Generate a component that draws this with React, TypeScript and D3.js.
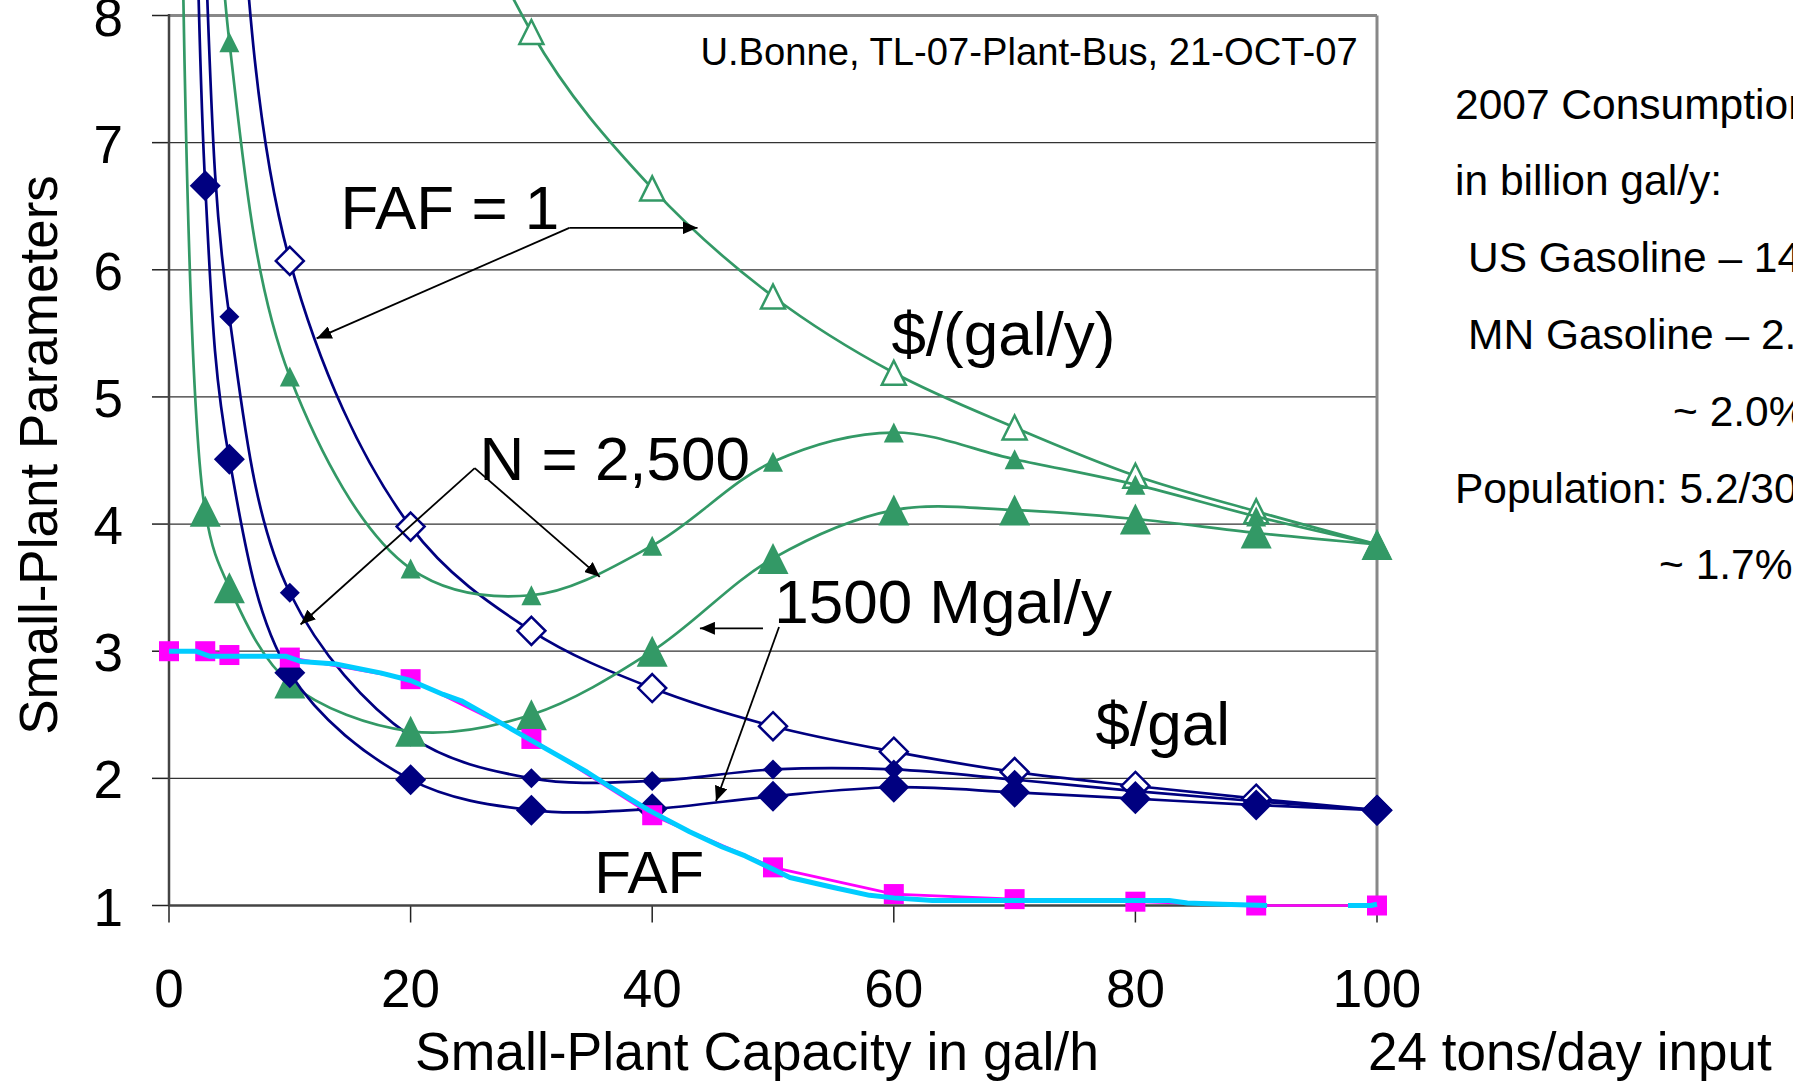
import React from "react";
import * as d3 from "d3";

// capacity in gal/h, shared by every marked series (null = no point)
const capacity = [0, 1, 3, 5, 10, 20, 30, 40, 50, 60, 70, 80, 90, 100];

// $/gal
const costFaf1 = [null, null, 15.9, 10.3, 6.07, 3.98, 3.16, 2.71, 2.41, 2.21, 2.05, 1.94, 1.84, 1.75];
const costN2500 = [null, 23.2, 8.56, 5.63, 3.46, 2.33, 2.0, 1.98, 2.07, 2.07, 1.99, 1.9, 1.82, 1.75];
const cost1500 = [null, 17.9, 6.66, 4.51, 2.83, 1.99, 1.75, 1.76, 1.86, 1.93, 1.89, 1.84, 1.79, 1.75];

// $/(gal/y)
const capFaf1 = [null, null, null, null, 17.0, 10.3, 7.87, 6.64, 5.79, 5.19, 4.76, 4.38, 4.1, 3.84];
const capN2500 = [null, null, 11.3, 7.79, 5.16, 3.65, 3.44, 3.83, 4.49, 4.72, 4.51, 4.31, 4.06, 3.84];
const cap1500 = [null, 9.6, 4.1, 3.5, 2.75, 2.37, 2.5, 3.0, 3.73, 4.11, 4.11, 4.04, 3.93, 3.84];

// FAF
const fafPoints = [3.0, null, 3.0, 2.97, 2.95, 2.78, 2.31, 1.71, 1.3, 1.09, 1.05, 1.03, 1.0, 1.0];
const fafCurveX = [0, 2.2, 3.4, 9.7, 10.9, 13.8, 17.5, 20, 22.7, 24.2, 27.2, 30.9, 34.6, 36.4, 39.7, 43.1, 45.8, 47.7, 49.9, 51.4, 55.1, 58, 60, 63.2, 82.8, 84.3, 87.2, 90.9, 94, 97.6, 99.5, 100];
const fafCurveY = [3.0, 3.0, 2.96, 2.96, 2.92, 2.9, 2.83, 2.77, 2.66, 2.61, 2.45, 2.25, 2.05, 1.94, 1.75, 1.58, 1.46, 1.39, 1.29, 1.22, 1.14, 1.08, 1.06, 1.04, 1.04, 1.02, 1.01, 1.0, null, 1.0, 1.0, 1.01];

const xTicks = [0, 20, 40, 60, 80, 100];
const yTicks = [1, 2, 3, 4, 5, 6, 7, 8];

const sideNotes = [
  { text: "2007 Consumption", dx: 0 },
  { text: "in billion gal/y:", dx: 0 },
  { text: "US Gasoline \u2013 140", dx: 13 },
  { text: "MN Gasoline \u2013 2.8", dx: 13 },
  { text: "~ 2.0%", dx: 218 },
  { text: "Population: 5.2/300", dx: 0 },
  { text: "~ 1.7%", dx: 204 },
];

const W = 1793;
const H = 1082;
const FONT = "'Liberation Sans', Arial, Helvetica, sans-serif";
const NAVY = "#000080";
const GREEN = "#339966";
const MAGENTA = "#ff00ff";
const CYAN = "#00ccff";

const x = d3.scaleLinear().domain([0, 100]).range([169, 1377]);
const y = d3.scaleLinear().domain([1, 8]).range([905.5, 15.5]);

const smooth = d3
  .line<[number, number]>()
  .x((d) => x(d[0]))
  .y((d) => y(d[1]))
  .curve(d3.curveCatmullRom.alpha(0.5));

const straight = d3
  .line<[number, number | null]>()
  .defined((d) => d[1] != null)
  .x((d) => x(d[0]))
  .y((d) => y(d[1] as number));

const pts = (vals: (number | null)[]) =>
  capacity.map((c, i) => [c, vals[i]]).filter((d) => d[1] != null) as [number, number][];

// drawing order as in the original (later on top)
const series = [
  { vals: costFaf1, color: NAVY, shape: "diamond", size: 14, open: true },
  { vals: costN2500, color: NAVY, shape: "diamond", size: 10, open: false },
  { vals: capFaf1, color: GREEN, shape: "triangle", size: 24, open: true },
  { vals: capN2500, color: GREEN, shape: "triangle", size: 20, open: false },
  { vals: cap1500, color: GREEN, shape: "triangle", size: 31, open: false },
  { vals: cost1500, color: NAVY, shape: "diamond", size: 15.5, open: false },
  { vals: fafPoints, color: MAGENTA, shape: "square", size: 20, open: false },
];

const labels = [
  { text: "FAF = 1", at: [14.2, 6.32], size: 62 },
  { text: "N = 2,500", at: [25.7, 4.35], size: 62 },
  { text: "1500 Mgal/y", at: [50.1, 3.22], size: 62 },
  { text: "$/(gal/y)", at: [59.8, 5.33], size: 62 },
  { text: "$/gal", at: [76.7, 2.26], size: 62 },
  { text: "FAF", at: [35.2, 1.1], size: 60 },
];

const arrows = [
  [[33.14, 6.33], [43.75, 6.33]],
  [[33.14, 6.33], [12.22, 5.46]],
  [[25.31, 4.44], [10.89, 3.21]],
  [[25.31, 4.44], [35.66, 3.585]],
  [[49.17, 3.18], [43.95, 3.18]],
  [[50.5, 3.19], [45.28, 1.82]],
];

function Mark({ shape, size, cx, cy, color, open }: any) {
  const fill = open ? "#fff" : color;
  const stroke = open ? color : "none";
  const sw = open ? 2.5 : 0;
  if (shape === "diamond") {
    const r = size;
    return (
      <polygon
        points={`${cx},${cy - r} ${cx + r},${cy} ${cx},${cy + r} ${cx - r},${cy}`}
        fill={fill}
        stroke={stroke}
        strokeWidth={sw}
      />
    );
  }
  if (shape === "triangle") {
    const h = size / 2;
    return (
      <polygon
        points={`${cx},${cy - h} ${cx + h},${cy + h} ${cx - h},${cy + h}`}
        fill={fill}
        stroke={stroke}
        strokeWidth={sw}
      />
    );
  }
  const h = size / 2;
  return <rect x={cx - h} y={cy - h} width={size} height={size} fill={fill} />;
}

export default function App() {
  const curve = fafCurveX.map((c, i) => [c, fafCurveY[i]]) as [number, number | null][];

  return (
    <div>
      <style>{`html,body{margin:0;padding:0;overflow:hidden;background:#fff}`}</style>
      <svg width={W} height={H} style={{ display: "block", overflow: "hidden" }} fontFamily={FONT}>
        <defs>
          <marker
            id="head"
            viewBox="0 0 10 10"
            refX="10"
            refY="5"
            markerWidth="15"
            markerHeight="13"
            markerUnits="userSpaceOnUse"
            preserveAspectRatio="none"
            orient="auto"
          >
            <path d="M0,0 L10,5 L0,10 Z" fill="#000" />
          </marker>
        </defs>

        {/* grid */}
        {yTicks.slice(1, -1).map((t) => (
          <line key={t} x1={x(0)} x2={x(100)} y1={y(t)} y2={y(t)} stroke="#333" strokeWidth={1.2} />
        ))}
        <line x1={x(0)} x2={x(100)} y1={y(8)} y2={y(8)} stroke="#888" strokeWidth={3} />
        <line x1={x(100)} x2={x(100)} y1={y(8)} y2={y(1)} stroke="#888" strokeWidth={3} />

        {/* axes */}
        {yTicks.map((t) => (
          <g key={t}>
            <line x1={x(0) - 17} x2={x(0)} y1={y(t)} y2={y(t)} stroke="#222" strokeWidth={1.5} />
            <text x={123} y={y(t) + 20} fontSize={53} textAnchor="end" fill="#000">
              {t}
            </text>
          </g>
        ))}
        {xTicks.map((t) => (
          <g key={t}>
            <line x1={x(t)} x2={x(t)} y1={y(1)} y2={y(1) + 17} stroke="#222" strokeWidth={1.5} />
            <text x={x(t)} y={1007} fontSize={53} textAnchor="middle" fill="#000">
              {t}
            </text>
          </g>
        ))}
        <line x1={x(0)} x2={x(0)} y1={y(8) - 1.5} y2={y(1)} stroke="#444" strokeWidth={2.5} />
        <line x1={x(0)} x2={x(100)} y1={y(1)} y2={y(1)} stroke="#444" strokeWidth={2.5} />

        {/* series */}
        {series.map((s, i) => {
          const p = pts(s.vals);
          return (
            <g key={i}>
              <path d={s.shape === "square" ? straight(p) || "" : smooth(p) || ""} fill="none" stroke={s.color} strokeWidth={2.7} />
              {p.map((d, j) => (
                <Mark key={j} shape={s.shape} size={s.size} cx={x(d[0])} cy={y(d[1])} color={s.color} open={s.open} />
              ))}
            </g>
          );
        })}
        <path d={straight(curve) || ""} fill="none" stroke={CYAN} strokeWidth={5} strokeLinejoin="round" />

        {/* annotations */}
        {arrows.map((a, i) => (
          <line
            key={i}
            x1={x(a[0][0])}
            y1={y(a[0][1])}
            x2={x(a[1][0])}
            y2={y(a[1][1])}
            stroke="#000"
            strokeWidth={1.8}
            markerEnd="url(#head)"
          />
        ))}
        {labels.map((l) => (
          <text key={l.text} x={x(l.at[0])} y={y(l.at[1])} fontSize={l.size} fill="#000">
            {l.text}
          </text>
        ))}
        <text x={x(98.4)} y={y(7.61)} fontSize={38.2} textAnchor="end" fill="#000">
          U.Bonne, TL-07-Plant-Bus, 21-OCT-07
        </text>

        {/* axis titles */}
        <text transform="translate(57,455) rotate(-90)" fontSize={53} textAnchor="middle" fill="#000">
          Small-Plant Parameters
        </text>
        <text x={415} y={1070} fontSize={53.5} fill="#000">
          Small-Plant Capacity in gal/h
        </text>
        <text x={1368} y={1070} fontSize={53} fill="#000">
          24 tons/day input
        </text>

        {/* side notes */}
        {sideNotes.map((n, i) => (
          <text key={i} x={1455 + n.dx} y={118.6 + i * 76.8} fontSize={42.5} fill="#000">
            {n.text}
          </text>
        ))}
      </svg>
    </div>
  );
}
